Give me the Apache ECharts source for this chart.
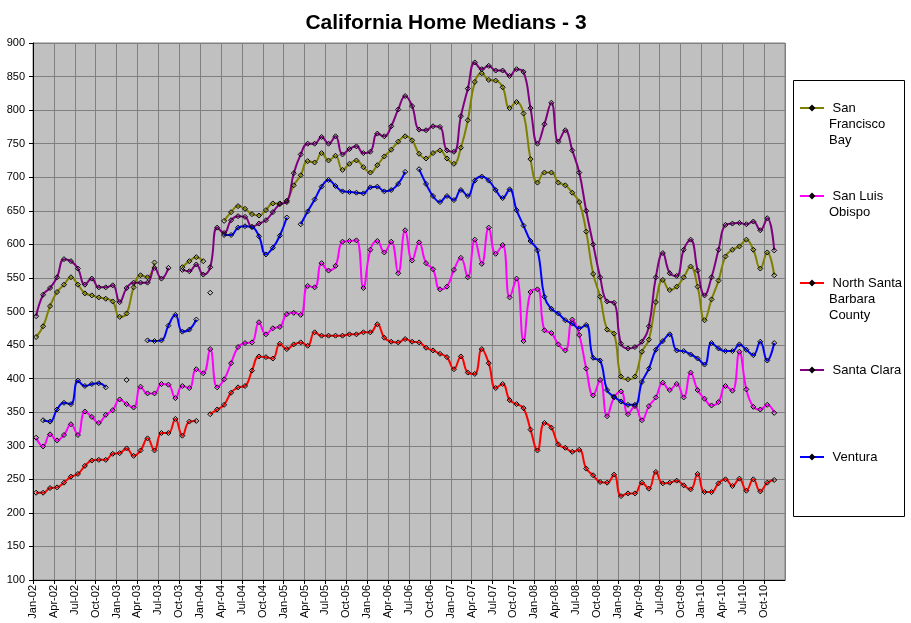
<!DOCTYPE html>
<html>
<head>
<meta charset="utf-8">
<script src="https://cdn.jsdelivr.net/npm/echarts@6/dist/echarts.min.js"></script>
<style>
  html, body { margin: 0; padding: 0; background: #fff; }
  #chart { width: 911px; height: 623px; }
</style>
</head>
<body>
<div id="chart"></div>
<script>
// month labels Jan-02 .. Jan-11 (axis runs to Jan-11, data ends Nov-10)
const monNames = ['Jan', 'Feb', 'Mar', 'Apr', 'May', 'Jun', 'Jul', 'Aug', 'Sep', 'Oct', 'Nov', 'Dec'];
const months = [];
for (let y = 2; y <= 11; y++) {
  monNames.forEach(function (m) { months.push(m + '-' + String(y).padStart(2, '0')); });
}

// monthly medians ($K), Jan-02 .. Nov-10, null = no data
const sfBay = [462, 478, 508, 529, 540, 551, 540, 527, 524, 521, 519, 515,
  492, 497, 536, 554, 551, 573, null, null, null, 566, 575, 581,
  575, null, null, 635, 648, 657, 653, 645, 643, 651, 661, 661,
  665, 688, 703, 724, 722, 736, 725, 732, 711, 720, 725, 715,
  707, 718, 731, 741, 753, 761, 755, 735, 728, 736, 740, 728,
  720, 744, 785, 842, 855, 845, 844, 834, 803, 812, 795, 727,
  692, 707, 707, 692, 688, 677, 663, 619, 556, 522, 473, 467,
  403, 399, 403, 440, 458, 514, 547, 532, 537, 551, 567, 537,
  487, 518, 546, 582, 592, 597, 607, 592, 564, 588, 554];
const sanLuisObispo = [312, 299, 317, 308, 316, 332, 316, 351, 343, 334, 346, 353,
  369, 362, 357, 388, 378, 378, 392, 391, 371, 389, 386, 414,
  408, 444, 387, 399, 423, 447, 453, 454, 484, 466, 475, 477,
  496, 498, 495, 538, 536, 572, 561, 568, 604, 605, 606, 535,
  592, 605, 588, 604, 557, 621, 576, 603, 572, 563, 533, 537,
  562, 580, 551, 607, 571, 625, 586, 599, 521, 549, 456, 529,
  533, 472, 468, 451, 442, 488, 465, 415, 375, 398, 344, 372,
  381, 347, 359, 338, 359, 372, 394, 383, 392, 372, 409, 383,
  370, 360, 365, 389, 382, 440, 384, 358, 354, 361, 349];
const northSantaBarbara = [230, 230, 237, 238, 245, 254, 258, 270, 278, 279, 279, 288,
  289, 296, 285, 293, 311, 293, 319, 319, 340, 315, 336, 337,
  null, 347, 354, 361, 379, 387, 389, 412, 433, 432, 430, 452,
  444, 451, 454, 449, 469, 464, 464, 464, 464, 466, 466, 469,
  469, 481, 461, 455, 454, 459, 455, 454, 446, 442, 437, 432,
  414, 433, 409, 407, 444, 423, 386, 392, 368, 362, 356, 324,
  293, 334, 327, 302, 297, 291, 294, 266, 256, 246, 245, 257,
  225, 229, 229, 245, 236, 261, 244, 245, 248, 241, 235, 258,
  231, 231, 244, 250, 240, 251, 233, 250, 232, 245, 249];
const santaClara = [493, 525, 535, 551, 578, 575, 564, 540, 549, 536, 536, 539,
  514, 535, 543, 543, 543, 565, 549, 565, null, 562, 560, 570,
  555, 566, 625, 617, 636, 642, 641, 626, 631, 636, 648, 660,
  663, 706, 734, 750, 750, 760, 750, 761, 734, 742, 746, 736,
  738, 765, 761, 776, 801, 821, 806, 771, 770, 776, 775, 740,
  738, 791, 832, 871, 861, 866, 859, 859, 851, 861, 857, 803,
  750, 779, 811, 753, 770, 740, 707, 650, 600, 551, 515, 513,
  452, 445, 447, 455, 478, 551, 587, 557, 553, 592, 607, 561,
  524, 551, 592, 629, 631, 632, 630, 634, 621, 639, 591];
const ventura = [null, 338, 336, 354, 364, 362, 397, 389, 392, 393, 387, null,
  null, 398, null, null, 457, 456, 457, 479, 495, 470, 473, 488,
  null, 528, null, 614, 614, 625, 627, 626, 612, 585, 595, 613,
  640, null, 630, 649, 667, 686, 696, 687, 679, 678, 677, 676,
  685, 686, 679, 681, 690, 708, null, 712, 690, 672, 663, 672,
  666, 681, 672, 695, 701, 695, 681, 669, 682, 651, 628, 605,
  591, 522, 504, 497, 487, 482, 475, 480, 431, 427, 383, 373,
  366, 361, 361, 395, 415, 443, 456, 466, 442, 441, 436, 430,
  421, 453, 445, 441, 441, 451, 443, 435, 455, 427, 453];

const seriesNames = ['San Francisco Bay', 'San Luis Obispo', 'North Santa Barbara County', 'Santa Clara', 'Ventura'];
const seriesValues = [sfBay, sanLuisObispo, northSantaBarbara, santaClara, ventura];
const seriesColors = ['#808000', '#ff00ff', '#ff0000', '#800080', '#0000ff'];
// legend text as wrapped in the original (first line starts with a space)
const legendLines = [[' San', 'Francisco', 'Bay'], [' San Luis', 'Obispo'], [' North Santa', 'Barbara', 'County'], [' Santa Clara'], [' Ventura']];
const legendIconY = [108, 196, 283, 370, 457];

const chart = echarts.init(document.getElementById('chart'));

const series = seriesNames.map(function (name, k) {
  return {
    name: name,
    type: 'line',
    smooth: 0.45,
    showAllSymbol: true,
    symbol: 'diamond',
    symbolSize: 5,
    connectNulls: false,
    lineStyle: { color: seriesColors[k], width: 2 },
    itemStyle: { color: 'rgba(0,0,0,0)', borderColor: '#000', borderWidth: 1 },
    emphasis: { disabled: true },
    data: seriesValues[k].map(function (v, i) { return [i + 0.45, v]; })
  };
});

// the legend text is centred on its icon, so blank lines are put in front
// of the text to keep the icon level with the first line
const LINE_H = 16;
const legends = seriesNames.map(function (name, k) {
  const lines = legendLines[k];
  const blanks = new Array(lines.length - 1).fill('');
  const text = blanks.concat(lines).join('\n');
  const boxH = (blanks.length + lines.length) * LINE_H;
  return {
    left: 799,
    top: legendIconY[k] - boxH / 2,
    padding: 0,
    itemWidth: 24,
    itemHeight: 5,
    selectedMode: false,
    textStyle: { fontFamily: 'Arial', fontSize: 13, color: '#000', lineHeight: LINE_H },
    formatter: function () { return text; },
    data: [name]
  };
});

chart.setOption({
  animation: false,
  graphic: [
    {
      type: 'rect',
      shape: { x: 793.5, y: 80.5, width: 111, height: 436 },
      style: { fill: '#fff', stroke: '#000', lineWidth: 1 },
      z: -1
    },
    {
      type: 'text',
      x: 446,
      y: 13,
      style: {
        text: 'California Home Medians - 3',
        font: 'bold 21px Arial',
        fill: '#000',
        textAlign: 'center',
        textVerticalAlign: 'top'
      }
    }
  ],
  legend: legends,
  grid: {
    left: 33,
    top: 43,
    width: 752,
    height: 537,
    show: true,
    backgroundColor: '#c0c0c0',
    borderColor: '#808080',
    borderWidth: 1
  },
  xAxis: {
    type: 'value',
    min: 0,
    max: 108,
    interval: 3,
    axisLine: { show: true, onZero: false, lineStyle: { color: '#000', width: 1 } },
    axisTick: { show: true, length: 4, lineStyle: { color: '#000' } },
    axisLabel: {
      rotate: 90,
      margin: 5,
      fontFamily: 'Arial',
      fontSize: 11,
      color: '#000',
      showMaxLabel: false,
      formatter: function (v) { return v >= 108 ? '' : months[v]; }
    },
    splitLine: { show: true, lineStyle: { color: '#808080', width: 1 } }
  },
  yAxis: {
    type: 'value',
    min: 100,
    max: 900,
    interval: 50,
    axisLine: { show: true, lineStyle: { color: '#000', width: 1 } },
    axisTick: { show: true, length: 4, lineStyle: { color: '#000' } },
    axisLabel: { margin: 8, fontFamily: 'Arial', fontSize: 11, color: '#000' },
    splitLine: { show: true, lineStyle: { color: '#808080', width: 1 } }
  },
  series: series
});
</script>
</body>
</html>
